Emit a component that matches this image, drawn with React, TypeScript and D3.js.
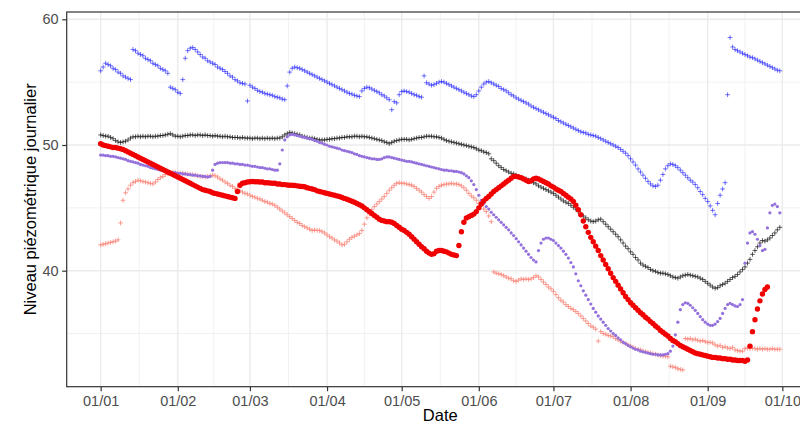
import { useEffect, useRef } from 'react';
import * as d3 from 'd3';

// one value per day, 01/01/2020 -> 30/09/2020 (274 days), null = no measure
type V = number | null;

const FIRST_DAY = new Date(Date.UTC(2020, 0, 1));
const AFTER_LAST_DAY = new Date(Date.UTC(2020, 9, 1));

const Y_MAJOR = [40, 50, 60];
const Y_MINOR = [35, 45, 55];
const X_TITLE = 'Date';
const Y_TITLE = 'Niveau piézométrique journalier';

const BLUE: V[] = [
  55.9, 56.2, 56.5, 56.4, 56.3, 56.1, 56.0, 55.8, 55.7, 55.5,
  55.4, 55.3, 55.2, 57.6, 57.5, 57.3, 57.2, 57.1, 56.9, 56.8,
  56.7, 56.5, 56.4, 56.3, 56.1, 56.0, 55.9, 55.7, 54.6, 54.5,
  54.4, 54.2, 54.1, 55.2, 56.9, 57.5, 57.7, 57.75, 57.6, 57.4,
  57.2, 57.0, 56.9, 56.7, 56.6, 56.5, 56.4, 56.2, 56.1, 56.0,
  55.85, 55.7, 55.5, 55.4, 55.2, 55.1, 54.95, 54.9, 54.85, 53.5,
  54.75, 54.6, 54.5, 54.35, 54.25, 54.2, 54.1, 54.05, 54.0, 53.95,
  53.85, 53.8, 53.75, 53.65, 53.6, 54.7, 55.8, 56.1, 56.2, 56.15,
  56.1, 56.0, 55.9, 55.8, 55.7, 55.6, 55.5, 55.4, 55.3, 55.2,
  55.1, 55.0, 54.9, 54.8, 54.7, 54.6, 54.5, 54.4, 54.3, 54.2,
  54.1, 54.05, 53.95, 53.9, 53.85, 54.3, 54.5, 54.6, 54.55, 54.45,
  54.35, 54.25, 54.15, 54.0, 53.9, 53.75, 53.6, 52.8, 53.45, 53.35,
  54.0, 54.25, 54.3, 54.25, 54.2, 54.1, 54.0, 53.95, 53.85, 53.8,
  55.5, 54.95, 54.85, 54.75, 54.8, 54.9, 55.0, 55.05, 55.0, 54.9,
  54.8, 54.7, 54.6, 54.5, 54.4, 54.3, 54.2, 54.1, 54.0, 53.9,
  53.85, 54.0, 54.3, 54.6, 54.85, 55.0, 55.05, 54.95, 54.85, 54.75,
  54.65, 54.5, 54.4, 54.3, 54.15, 54.0, 53.9, 53.75, 53.65, 53.55,
  53.45, 53.35, 53.25, 53.1, 53.0, 52.9, 52.8, 52.7, 52.6, 52.5,
  52.4, 52.3, 52.2, 52.1, 51.95, 51.85, 51.75, 51.65, 51.55, 51.45,
  51.35, 51.25, 51.15, 51.05, 51.0, 50.95, 50.85, 50.8, 50.75, 50.7,
  50.6, 50.5, 50.4, 50.3, 50.2, 50.1, 50.0, 49.9, 49.8, 49.65,
  49.5, 49.35, 49.15, 48.9, 48.65, 48.4, 48.1, 47.85, 47.6, 47.35,
  47.1, 46.9, 46.75, 46.7, 46.8, 47.2, 47.65, 48.1, 48.35, 48.5,
  48.45, 48.35, 48.2, 48.0, 47.8, 47.6, 47.4, 47.2, 47.05, 46.85,
  46.6, 46.3, 46.05, 45.75, 45.5, 45.15, 44.8, 44.45, 45.35, 46.0,
  46.5, 47.0, 54.0, 58.55, 57.8, 57.6, 57.5, 57.4, 57.3, 57.2,
  57.1, 57.0, 56.95, 56.85, 56.75, 56.65, 56.55, 56.45, 56.35, 56.25,
  56.15, 56.05, 55.95, 55.9,
];

const BLACK: V[] = [
  50.8, 50.75, 50.7, 50.7, 50.6, 50.5, 50.35, 50.25, 50.2, 50.25,
  50.3, 50.4, 50.55, 50.65, 50.65, 50.7, 50.65, 50.7, 50.65, 50.7,
  50.7, 50.65, 50.7, 50.7, 50.75, 50.75, 50.8, 50.85, 50.9, 50.8,
  50.7, 50.7, 50.65, 50.7, 50.75, 50.75, 50.8, 50.8, 50.75, 50.8,
  50.8, 50.75, 50.8, 50.75, 50.75, 50.7, 50.75, 50.7, 50.7, 50.65,
  50.7, 50.65, 50.65, 50.6, 50.6, 50.6, 50.55, 50.6, 50.55, 50.55,
  50.55, 50.5, 50.55, 50.55, 50.5, 50.55, 50.5, 50.55, 50.5, 50.55,
  50.5, 50.55, 50.55, 50.65, 50.8, 50.9, 51.0, 50.95, 50.9, 50.85,
  50.8, 50.7, 50.65, 50.6, 50.55, 50.55, 50.5, 50.45, 50.4, 50.4,
  50.4, 50.45, 50.45, 50.5, 50.5, 50.55, 50.55, 50.6, 50.6, 50.65,
  50.65, 50.65, 50.7, 50.7, 50.65, 50.7, 50.65, 50.65, 50.6, 50.55,
  50.5, 50.45, 50.4, 50.35, 50.25, 50.2, 50.1, 50.2, 50.3, 50.35,
  50.4, 50.45, 50.45, 50.45, 50.4, 50.45, 50.5, 50.55, 50.6, 50.6,
  50.65, 50.7, 50.7, 50.7, 50.65, 50.65, 50.6, 50.55, 50.45, 50.35,
  50.3, 50.25, 50.2, 50.15, 50.1, 50.05, 50.0, 49.95, 49.9, 49.85,
  49.8, 49.7, 49.6, 49.55, 49.45, 49.4, 49.3, 48.9, 48.75, 48.55,
  48.35, 48.2, 48.05, 47.95, 47.85, 47.75, 47.7, 47.6, 47.5, 47.4,
  47.35, 47.3, 47.2, 47.1, 47.0, 46.9, 46.75, 46.65, 46.55, 46.45,
  46.35, 46.25, 46.15, 46.0, 45.85, 45.7, 45.55, 45.45, 45.35, 45.2,
  45.05, 44.9, 44.7, 44.5, 44.35, 44.2, 44.05, 43.95, 43.9, 43.95,
  44.05, 44.1, 43.9, 43.7, 43.5, 43.3, 43.1, 42.9, 42.7, 42.45,
  42.2, 41.95, 41.75, 41.5, 41.3, 41.05, 40.85, 40.6, 40.45, 40.35,
  40.25, 40.1, 40.0, 39.95, 39.85, 39.8, 39.8, 39.75, 39.7, 39.6,
  39.5, 39.45, 39.4, 39.5, 39.6, 39.65, 39.7, 39.65, 39.6, 39.55,
  39.5, 39.4, 39.3, 39.15, 39.0, 38.85, 38.7, 38.6, 38.65, 38.8,
  38.9, 39.0, 39.15, 39.3, 39.45, 39.55, 39.7, 39.9, 40.1, 40.3,
  40.6, 40.9, 41.3, 41.6, 41.9, 42.2, 42.4, 42.35, 42.45, 42.6,
  42.8, 43.0, 43.25, 43.45,
];

const PURPLE: V[] = [
  49.2, 49.2, 49.15, 49.15, 49.1, 49.1, 49.05, 49.0, 48.95, 48.9,
  48.85, 48.75, 48.7, 48.65, 48.6, 48.55, 48.45, 48.4, 48.35, 48.3,
  48.2, 48.15, 48.1, 48.05, 48.0, 47.95, 47.9, 47.9, 47.85, 47.8,
  47.8, 47.75, 47.75, 47.7, 47.7, 47.65, 47.65, 47.6, 47.6, 47.55,
  47.55, 47.5, 47.5, 47.45, 47.5, 48.0, 48.45, 48.55, 48.6, 48.6,
  48.6, 48.6, 48.55, 48.55, 48.5, 48.5, 48.45, 48.45, 48.4, 48.4,
  48.35, 48.3, 48.3, 48.25, 48.2, 48.2, 48.15, 48.1, 48.1, 48.05,
  48.0, 48.0, 48.5, 49.6, 50.4, 50.65, 50.8, 50.85, 50.8, 50.75,
  50.7, 50.65, 50.6, 50.55, 50.5, 50.45, 50.35, 50.3, 50.2, 50.15,
  50.05, 50.0, 49.9, 49.85, 49.8, 49.75, 49.7, 49.6, 49.55, 49.5,
  49.45, 49.4, 49.3, 49.25, 49.15, 49.1, 49.05, 49.0, 48.95, 48.9,
  48.9, 48.85, 48.85, 48.9, 49.0, 49.05, 49.05, 49.0, 48.95, 48.9,
  48.85, 48.8, 48.75, 48.7, 48.7, 48.65, 48.6, 48.55, 48.5, 48.45,
  48.4, 48.35, 48.3, 48.25, 48.2, 48.15, 48.1, 48.05, 48.0, 48.0,
  47.95, 47.95, 47.9, 47.9, 47.85, 47.8, 47.7, 47.55, 47.4, 47.15,
  46.85, 46.45, 46.0, 45.6, 45.35, 45.1, 44.9, 44.65, 44.45, 44.25,
  44.05, 43.85, 43.65, 43.45, 43.25, 43.0, 42.8, 42.55, 42.3, 42.05,
  41.8, 41.55, 41.3, 41.05, 40.85, 40.7, 41.6, 42.2, 42.5, 42.6,
  42.6, 42.5, 42.4, 42.2, 42.0, 41.8, 41.55, 41.3, 41.0, 40.65,
  40.3, 39.75, 39.2, 38.8, 38.4, 38.05, 37.7, 37.35, 37.0, 36.7,
  36.4, 36.15, 35.9, 35.65, 35.4, 35.2, 35.0, 34.85, 34.65, 34.5,
  34.3, 34.2, 34.05, 33.95, 33.85, 33.75, 33.7, 33.6, 33.55, 33.5,
  33.45, 33.4, 33.35, 33.35, 33.3, 33.3, 33.3, 33.35, 33.4, 33.6,
  34.0, 34.9, 35.9, 36.9, 37.3, 37.45, 37.4, 37.25, 37.05, 36.85,
  36.6, 36.35, 36.1, 35.9, 35.75, 35.65, 35.65, 35.75, 35.95, 36.2,
  36.6, 37.0, 37.3, 37.4, 37.3, 37.2, 37.15, 37.3, 37.7, 40.6,
  42.2, 43.0, 43.1, 42.9, 42.5, 42.0, 41.6, 41.7, 43.4, 44.6,
  45.2, 45.3, 45.1, 44.6,
];

const SALMON: V[] = [
  42.05, 42.1, 42.15, 42.2, 42.25, 42.3, 42.35, 42.45, 43.8, 45.6,
  46.2, 46.5, 46.8, 47.0, 47.1, 47.2, 47.15, 47.1, 47.05, 47.0,
  46.95, 46.9, 47.05, 47.25, 47.4, 47.5, 47.65, 47.7, 47.8, 47.85,
  47.8, 47.75, 47.75, 47.75, 47.7, 47.7, 47.65, 47.65, 47.6, 47.55,
  47.5, 47.5, 47.45, 47.5, 47.55, 47.6, 47.55, 47.45, 47.3, 47.2,
  47.05, 46.95, 46.8, 46.7, 46.55, 46.45, 46.35, 46.25, 46.15, 46.1,
  46.0, 45.9, 45.85, 45.75, 45.7, 45.6, 45.5, 45.45, 45.35, 45.3,
  45.2, 45.05, 44.9, 44.75, 44.6, 44.45, 44.3, 44.15, 44.0, 43.85,
  43.75, 43.6, 43.5, 43.4, 43.3, 43.2, 43.25, 43.2, 43.2, 43.1,
  43.0, 42.85, 42.7, 42.6, 42.45, 42.35, 42.2, 42.05, 42.1, 42.3,
  42.5, 42.65, 42.75, 42.85, 42.95, 43.2, 43.7, 44.2, 44.5, 44.85,
  45.1, 45.3, 45.5, 45.7, 45.9, 46.15, 46.4, 46.6, 46.8, 46.95,
  47.0, 46.95, 46.95, 46.9, 46.85, 46.8, 46.7, 46.55, 46.4, 46.25,
  46.05, 45.9, 45.75, 45.9, 46.25, 46.55, 46.7, 46.8, 46.85, 46.9,
  46.9, 46.95, 46.9, 46.9, 46.85, 46.75, 46.6, 46.4, 46.15, 45.95,
  45.8, 45.6, 45.35, 45.15, 44.9, 44.7, 44.35, 43.9, 39.9, 39.8,
  39.75, 39.7, 39.6, 39.5, 39.4, 39.35, 39.2, 39.15, 39.25, 39.35,
  39.3, 39.35, 39.3, 39.35, 39.45, 39.6, 39.5, 39.3, 39.1, 38.9,
  38.7, 38.55, 38.35, 38.1, 37.85, 37.65, 37.5, 37.3, 37.15, 37.0,
  36.9, 36.75, 36.6, 36.4, 36.2, 36.0, 35.8, 35.6, 35.5, 35.35,
  34.4, 35.15, 35.0, 34.95, 34.85, 34.8, 34.75, 34.6, 34.5, 34.4,
  34.3, 34.2, 34.1, 34.0, 33.9, 33.8, 33.75, 33.7, 33.6, 33.55,
  33.5, 33.45, 33.4, 33.35, 33.3, 33.25, 33.2, 33.2, 33.15, 32.4,
  32.35, 32.3, 32.2, 32.15, 32.1, 34.6, 34.55, 34.6, 34.5, 34.55,
  34.45, 34.4, 34.45, 34.35, 34.3, 34.3, 34.25, 34.1, 34.0, 34.05,
  33.9, 33.95, 33.85, 33.8, 33.9, 33.7, 33.65, 33.6, 33.6, 33.8,
  33.85, 33.8, 33.85, 33.8, 33.75, 33.8, 33.75, 33.8, 33.75, 33.75,
  33.8, 33.75, 33.75, 33.75,
];

const RED: V[] = [
  50.1, 50.0, 49.95, 49.9, 49.85, 49.8, 49.8, 49.75, 49.7, 49.65,
  49.55, 49.45, 49.35, 49.25, 49.15, 49.05, 48.95, 48.85, 48.75, 48.65,
  48.55, 48.45, 48.35, 48.25, 48.15, 48.05, 47.95, 47.85, 47.75, 47.65,
  47.55, 47.45, 47.35, 47.25, 47.15, 47.05, 46.95, 46.85, 46.75, 46.65,
  46.55, 46.45, 46.4, 46.35, 46.3, 46.2, 46.15, 46.1, 46.05, 46.0,
  45.95, 45.9, 45.85, 45.8, 45.75, 46.3, 46.8, 46.95, 47.0, 47.05,
  47.08, 47.1, 47.08, 47.08, 47.05, 47.05, 47.0, 47.0, 46.98, 46.95,
  46.95, 46.9, 46.9, 46.85, 46.85, 46.82, 46.8, 46.8, 46.78, 46.75,
  46.72, 46.7, 46.68, 46.6, 46.55, 46.5, 46.45, 46.35, 46.3, 46.25,
  46.2, 46.15, 46.1, 46.05, 46.0, 45.95, 45.9, 45.82, 45.75, 45.68,
  45.6, 45.52, 45.45, 45.35, 45.25, 45.15, 45.0, 44.85, 44.7, 44.55,
  44.4, 44.25, 44.1, 44.0, 43.95, 43.9, 43.9, 43.85, 43.75, 43.6,
  43.45, 43.3, 43.2, 43.05, 42.9, 42.7, 42.5, 42.3, 42.1, 41.9,
  41.75, 41.55, 41.4, 41.3, 41.35, 41.55, 41.6, 41.6, 41.55, 41.5,
  41.4, 41.3, 41.25, 41.2, 42.0, 43.1, 43.85, 44.2, 44.3, 44.4,
  44.5, 44.7, 45.0, 45.3, 45.55, 45.75, 45.9, 46.1, 46.3, 46.45,
  46.6, 46.75, 46.9, 47.05, 47.2, 47.35, 47.5, 47.5, 47.45, 47.4,
  47.3, 47.2, 47.1, 47.15, 47.3, 47.35, 47.3, 47.2, 47.1, 47.0,
  46.9, 46.75, 46.65, 46.5, 46.4, 46.3, 46.15, 46.0, 45.85, 45.7,
  45.5, 45.2, 44.85, 44.45, 43.95, 43.5, 43.05, 42.65, 42.3, 41.95,
  41.6, 41.2, 40.85, 40.5, 40.15, 39.8, 39.45, 39.15, 38.85, 38.55,
  38.25, 37.95, 37.7, 37.45, 37.25, 37.05, 36.85, 36.65, 36.5, 36.3,
  36.15, 35.95, 35.8, 35.6, 35.45, 35.25, 35.1, 34.95, 34.8, 34.6,
  34.45, 34.35, 34.2, 34.05, 33.95, 33.85, 33.75, 33.65, 33.55, 33.45,
  33.4, 33.35, 33.3, 33.25, 33.2, 33.15, 33.1, 33.1, 33.05, 33.05,
  33.0, 33.0, 32.95, 32.95, 32.9, 32.9, 32.85, 32.85, 32.85, 32.8,
  32.9, 34.0, 35.15, 36.1, 36.95, 37.6, 38.15, 38.5, 38.7, null,
  null, null, null, null,
];

// draw order = layer order in the reference
const LAYERS = [
  { values: BLUE, shape: 'plus', color: '#0000ff', opacity: 0.6, size: 2.4 },
  { values: BLACK, shape: 'plus', color: '#000000', opacity: 0.7, size: 2.4 },
  { values: SALMON, shape: 'plus', color: '#fa8072', opacity: 0.85, size: 2.4 },
  { values: PURPLE, shape: 'dot', color: '#9370db', opacity: 1, size: 1.6 },
  { values: RED, shape: 'dot', color: '#f00000', opacity: 1, size: 2.7 },
];

const FONT = '"Liberation Sans", Arial, Helvetica, sans-serif';

export default function App() {
  const svgRef = useRef<SVGSVGElement>(null);

  useEffect(() => {
    if (!svgRef.current) return;
    const svg = d3.select(svgRef.current);
    svg.selectAll('*').remove();

    const W = 800, H = 426;
    const margin = { top: 12, left: 66.7, bottom: 39.3, right: -13.8 };
    const left = margin.left, right = W - margin.right;
    const top = margin.top, bottom = H - margin.bottom;

    svg.attr('width', W).attr('height', H);

    const days = d3.utcDay.range(FIRST_DAY, AFTER_LAST_DAY);
    const t0 = +days[0], t1 = +days[days.length - 1];
    const pad = (t1 - t0) * 0.05;

    const x = d3.scaleUtc().domain([new Date(t0 - pad), new Date(t1 + pad)]).range([left, right]);
    const y = d3.scaleLinear().domain([30.77, 60.58]).range([bottom, top]);

    const months = d3.utcMonth.range(FIRST_DAY, new Date(Date.UTC(2020, 9, 2)));
    const midMonths = d3.pairs(months).map(([a, b]) => new Date((+a + +b) / 2));

    svg.append('rect').attr('x', 0).attr('y', 0).attr('width', W).attr('height', H).attr('fill', '#fff');

    // ── Grid ────────────────────────────────────────────────
    const grid = svg.append('g');
    grid.selectAll('.ymin').data(Y_MINOR).join('line')
      .attr('x1', left).attr('x2', right).attr('y1', d => y(d)).attr('y2', d => y(d))
      .attr('stroke', '#ebebeb').attr('stroke-width', 0.7);
    grid.selectAll('.xmin').data(midMonths).join('line')
      .attr('x1', d => x(d)).attr('x2', d => x(d)).attr('y1', top).attr('y2', bottom)
      .attr('stroke', '#ebebeb').attr('stroke-width', 0.7);
    grid.selectAll('.ymaj').data(Y_MAJOR).join('line')
      .attr('x1', left).attr('x2', right).attr('y1', d => y(d)).attr('y2', d => y(d))
      .attr('stroke', '#ebebeb').attr('stroke-width', 1.4);
    grid.selectAll('.xmaj').data(months).join('line')
      .attr('x1', d => x(d)).attr('x2', d => x(d)).attr('y1', top).attr('y2', bottom)
      .attr('stroke', '#ebebeb').attr('stroke-width', 1.4);

    // ── Points ──────────────────────────────────────────────
    const plot = svg.append('g');
    LAYERS.forEach(layer => {
      const pts = days
        .map((d, i) => ({ d, v: layer.values[i] }))
        .filter(p => p.v != null) as { d: Date; v: number }[];
      const g = plot.append('g');
      if (layer.shape === 'plus') {
        const s = layer.size;
        g.selectAll('path').data(pts).join('path')
          .attr('d', p => {
            const px = x(p.d), py = y(p.v);
            return `M${px - s},${py}H${px + s}M${px},${py - s}V${py + s}`;
          })
          .attr('fill', 'none').attr('stroke', layer.color)
          .attr('stroke-opacity', layer.opacity).attr('stroke-width', 0.9);
      } else {
        g.selectAll('circle').data(pts).join('circle')
          .attr('cx', p => x(p.d)).attr('cy', p => y(p.v)).attr('r', layer.size)
          .attr('fill', layer.color).attr('fill-opacity', layer.opacity);
      }
    });

    // ── Panel border ────────────────────────────────────────
    svg.append('rect')
      .attr('x', left).attr('y', top).attr('width', right - left).attr('height', bottom - top)
      .attr('fill', 'none').attr('stroke', '#333333').attr('stroke-width', 1.2);

    // ── Axes ────────────────────────────────────────────────
    svg.append('g')
      .attr('transform', `translate(0,${bottom})`)
      .call(d3.axisBottom(x).tickValues(months).tickFormat(d => d3.utcFormat('%d/%m')(d as Date)).tickSize(4.5).tickPadding(5))
      .call(g => g.select('.domain').remove())
      .call(g => g.selectAll('.tick line').attr('stroke', '#333333').attr('stroke-width', 1.2))
      .call(g => g.selectAll('text').attr('fill', '#4d4d4d').attr('font-size', '14.5px').attr('font-family', FONT));

    svg.append('g')
      .attr('transform', `translate(${left},0)`)
      .call(d3.axisLeft(y).tickValues(Y_MAJOR).tickFormat(d3.format('d')).tickSize(4.5).tickPadding(3.6))
      .call(g => g.select('.domain').remove())
      .call(g => g.selectAll('.tick line').attr('stroke', '#333333').attr('stroke-width', 1.2))
      .call(g => g.selectAll('text').attr('fill', '#4d4d4d').attr('font-size', '14.5px').attr('font-family', FONT));

    // ── Titles ──────────────────────────────────────────────
    svg.append('text')
      .attr('x', (left + right) / 2).attr('y', 421)
      .attr('text-anchor', 'middle').attr('font-family', FONT).attr('font-size', '16.5px')
      .attr('fill', '#000').text(X_TITLE);

    svg.append('text')
      .attr('transform', `translate(36,${(top + bottom) / 2}) rotate(-90)`)
      .attr('text-anchor', 'middle').attr('font-family', FONT).attr('font-size', '16.5px')
      .attr('fill', '#000').text(Y_TITLE);
  }, []);

  return (
    <div style={{ position: 'absolute', left: 0, top: 0, width: 800, height: 426, overflow: 'hidden' }}>
      <svg ref={svgRef} style={{ display: 'block' }} />
    </div>
  );
}
